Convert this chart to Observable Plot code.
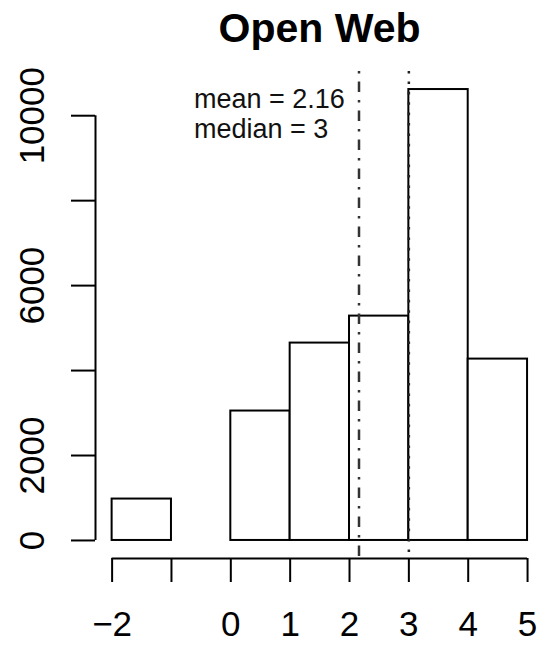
<!DOCTYPE html>
<html>
<head>
<meta charset="utf-8">
<script src="https://cdn.jsdelivr.net/npm/d3@7"></script>
<script src="https://cdn.jsdelivr.net/npm/@observablehq/plot@0.6"></script>
<style>
  html, body { margin: 0; padding: 0; background: #fff; }
  #title { height: 60px; width: 541px; box-sizing: border-box; padding-top: 8px;
    font-family: "Liberation Sans", Arial, Helvetica, sans-serif; font-weight: bold;
    font-size: 41px; line-height: 41px; text-align: center; padding-left: 98px; color: #000; }
  #chart svg { display: block; }
</style>
</head>
<body>
<div id="title">Open Web</div>
<div id="chart"></div>
<script>
// Histogram data
const binStarts = [-2, -1, 0, 1, 2, 3, 4];
const binEnds   = [-1,  0, 1, 2, 3, 4, 5];
const counts    = [975, 0, 3047, 4647, 5282, 10616, 4270];

const meanValue = 2.16;
const medianValue = 3;
const annotation = ["mean = 2.16", "median = 3"];

const xTicks = [-2, -1, 0, 1, 2, 3, 4, 5];
const xTickLabelValues = [-2, 0, 1, 2, 3, 4, 5];
const xTickLabels = ["−2", "0", "1", "2", "3", "4", "5"];
const yTicks = [0, 2000, 4000, 6000, 8000, 10000];
const yTickLabelValues = [0, 2000, 6000, 10000];

const bins = binStarts.map((s, i) => ({x1: s, x2: binEnds[i], count: counts[i]}));
const maxCount = d3.max(counts);
const yDomain = [-0.04 * maxCount, 1.04 * maxCount];
const xDomain = [-2.28, 5.235];
const font = '"Liberation Sans", Arial, Helvetica, sans-serif';

const chart = Plot.plot({
  width: 541,
  height: 585,
  marginLeft: 95,
  marginRight: 0,
  marginTop: 11,
  marginBottom: 87,
  style: {fontFamily: font, background: "#fff", color: "#000"},
  x: {domain: xDomain, label: null},
  y: {domain: yDomain, label: null},
  marks: [
    Plot.rect(bins, {x1: "x1", x2: "x2", y1: 0, y2: "count", fill: "#fff", stroke: "#000", strokeWidth: 2}),
    Plot.ruleX([meanValue], {stroke: "#333", strokeWidth: 2.5, strokeDasharray: "2.5,8,10.5,8"}),
    Plot.ruleX([medianValue], {stroke: "#222", strokeWidth: 2.5, strokeDasharray: "2.6,7.8"}),
    // y axis
    Plot.ruleX([xDomain[0]], {y1: yTicks[0], y2: yTicks[yTicks.length - 1], stroke: "#000", strokeWidth: 2}),
    Plot.axisY({ticks: yTicks, tickSize: 24, tickFormat: () => "", label: null, stroke: "#000", strokeWidth: 2}),
    Plot.text(yTickLabelValues, {y: d => d, text: d => String(d), frameAnchor: "left", rotate: -90,
      textAnchor: "middle", lineAnchor: "bottom", dx: -52, fontSize: 35, fill: "#000"}),
    // x axis
    Plot.ruleY([yDomain[0]], {x1: xTicks[0], x2: xTicks[xTicks.length - 1], stroke: "#000", strokeWidth: 2}),
    Plot.axisX({ticks: xTicks, tickSize: 24, tickFormat: () => "", label: null, stroke: "#000", strokeWidth: 2}),
    Plot.text(xTickLabelValues, {x: d => d, text: (d, i) => xTickLabels[i], frameAnchor: "bottom",
      textAnchor: "middle", lineAnchor: "bottom", dy: 77, fontSize: 35, fill: "#000"}),
    // annotation
    Plot.text([annotation.join("\n")], {x: -0.62, frameAnchor: "top", textAnchor: "start", lineAnchor: "top",
      dy: 15, fontSize: 27, lineHeight: 1.12, fill: "#111"})
  ]
});
document.getElementById("chart").appendChild(chart);
</script>
</body>
</html>
